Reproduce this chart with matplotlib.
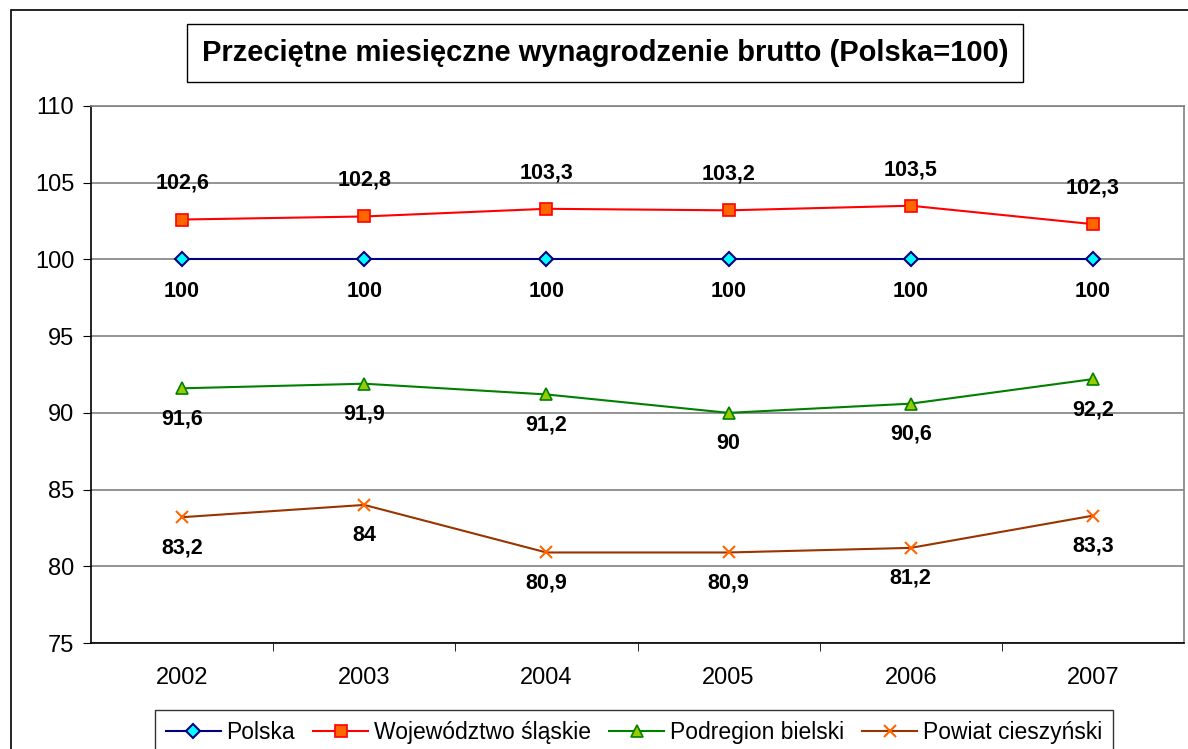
import matplotlib
matplotlib.use("Agg")
import matplotlib.pyplot as plt
from matplotlib.patches import Rectangle

plt.rcParams['font.family'] = ['Liberation Sans', 'DejaVu Sans']

years = ["2002", "2003", "2004", "2005", "2006", "2007"]
polska = [100, 100, 100, 100, 100, 100]
slaskie = [102.6, 102.8, 103.3, 103.2, 103.5, 102.3]
bielski = [91.6, 91.9, 91.2, 90, 90.6, 92.2]
cieszynski = [83.2, 84, 80.9, 80.9, 81.2, 83.3]
names = ["Polska", "Województwo śląskie", "Podregion bielski", "Powiat cieszyński"]
yticks = [75, 80, 85, 90, 95, 100, 105, 110]

def fmt(v):
    s = ("%g" % v)
    return s.replace(".", ",")

fig = plt.figure(figsize=(11.88, 7.49), dpi=100)
fig.patches.append(Rectangle((11/1188, -0.1), 1.2, 1 - 10/749 + 0.1, transform=fig.transFigure,
                             fill=False, edgecolor='black', linewidth=1.2))
ax = fig.add_axes([91/1188, 1 - 643/749, (1184 - 91)/1188, (643 - 106)/749])

x = list(range(len(years)))
series = [
    (polska, dict(color='#000080', marker='D', markersize=7, markerfacecolor='#00FFFF', markeredgecolor='#000080', markeredgewidth=1.5), 23),
    (slaskie, dict(color='#FF0000', marker='s', markersize=8, markerfacecolor='#FF6600', markeredgecolor='#FF0000', markeredgewidth=1.2), -26),
    (bielski, dict(color='#008000', marker='^', markersize=9, markerfacecolor='#99CC00', markeredgecolor='#008000', markeredgewidth=1.2), 22),
    (cieszynski, dict(color='#993300', marker='x', markersize=9, markeredgecolor='#FF6600', markeredgewidth=1.5), 22),
]
handles = []
for (vals, style, off), name in zip(series, names):
    h, = ax.plot(x, vals, linewidth=1.5, label=name, **style)
    handles.append(h)
    for xi, v in zip(x, vals):
        ax.annotate(fmt(v), (xi, v), xytext=(0, -off), textcoords='offset points',
                    ha='center', va='center', fontsize=15.5, fontweight='bold')

ax.set_xlim(-0.5, len(years) - 0.5)
ax.set_ylim(75, 110)
ax.set_yticks(yticks)
ax.set_yticklabels([str(t) for t in yticks], fontsize=17)
ax.set_xticks(x)
ax.set_xticklabels(years, fontsize=17)
ax.tick_params(axis='x', length=0, pad=17)
ax.set_xticks([i + 0.5 for i in range(len(years) - 1)], minor=True)
ax.tick_params(axis='x', which='minor', length=6, direction='out', color='black')
ax.tick_params(axis='y', length=6, direction='out', pad=6)
ax.yaxis.grid(True, color='#808080', linewidth=1.2)
ax.set_axisbelow(True)
for s in ['top', 'right']:
    ax.spines[s].set_color('#808080')
    ax.spines[s].set_linewidth(1.2)
for s in ['left', 'bottom']:
    ax.spines[s].set_color('black')
    ax.spines[s].set_linewidth(1.2)

fig.text(605/1188, 1 - 53/749, "Przeciętne miesięczne wynagrodzenie brutto (Polska=100)",
         ha='center', va='center', fontsize=21, fontweight='bold',
         bbox=dict(boxstyle='square,pad=0.5', facecolor='white', edgecolor='black', linewidth=1.0))

leg = fig.legend(handles=handles, loc='upper center', bbox_to_anchor=(634/1188, 1 - 699/749),
                 ncol=4, fontsize=16.5, frameon=True, fancybox=False, edgecolor='black',
                 handlelength=2.4, handletextpad=0.25, columnspacing=0.8, borderpad=0.45)
leg.get_frame().set_linewidth(1.0)

fig.savefig("out.png", dpi=100)
